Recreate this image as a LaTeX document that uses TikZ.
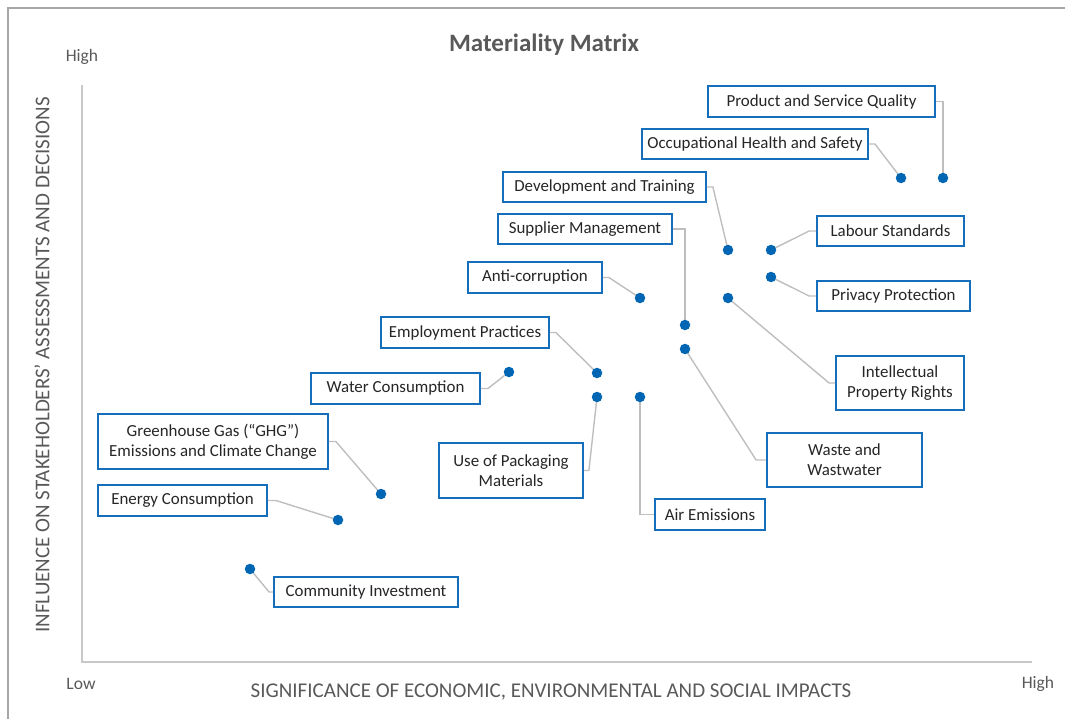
\documentclass[tikz,border=0pt]{standalone}
\usepackage{fontspec}
\setmainfont{Carlito}
\definecolor{boxblue}{RGB}{21,110,188}
\definecolor{dotblue}{RGB}{0,101,179}
\definecolor{leadgray}{RGB}{190,190,190}
\definecolor{axgray}{RGB}{200,200,200}
\definecolor{framegray}{RGB}{166,166,166}
\definecolor{txtdark}{RGB}{38,38,38}
\definecolor{txtgray}{RGB}{89,89,89}
\begin{document}
\begin{tikzpicture}[x=1pt,y=-1pt,
  lbl/.style={draw=boxblue, line width=1.8pt, fill=white, inner sep=0pt, align=center,
    text=txtdark, font=\fontsize{16.9}{19.8}\selectfont},
  lead/.style={draw=leadgray, line width=1.4pt},
  dot/.style={circle, fill=dotblue, inner sep=0pt, minimum size=10.5pt},
  axlab/.style={text=txtgray, font=\fontsize{21}{24}\selectfont},
  hl/.style={text=txtgray, font=\fontsize{17.5}{20}\selectfont}]
\useasboundingbox (0,0) rectangle (1065,719);
% frame
\draw[framegray, line width=2pt] (8,719) -- (8,8) -- (1065,8);
% axes
\coordinate (ytop) at (82,85);
\coordinate (org) at (82,662);
\coordinate (xend) at (1032,662);
\draw[axgray, line width=1.5pt] (ytop) -- (org) -- (xend);
% title and axis labels
\node[text=txtgray, font=\bfseries\fontsize{25}{30}\selectfont] (title) at (544,45) {Materiality Matrix};
\node[hl] (hi) at (82,57) {High};
\node[hl] (lo) at (81,684) {Low};
\node[hl] (hx) at (1038,684) {High};
\node[axlab] (xlab) at (551,692) {SIGNIFICANCE OF ECONOMIC, ENVIRONMENTAL AND SOCIAL IMPACTS};
\node[axlab, rotate=90] (ylab) at (42,365) {INFLUENCE ON STAKEHOLDERS’ ASSESSMENTS AND DECISIONS};
% dot positions
\coordinate (ppsq) at (943,178);
\coordinate (pohs) at (901,178);
\coordinate (pdt) at (728,250);
\coordinate (plab) at (771,250);
\coordinate (ppri) at (771,277);
\coordinate (pipr) at (728,298);
\coordinate (panti) at (640,298);
\coordinate (psup) at (685,325);
\coordinate (pwas) at (685,349);
\coordinate (pemp) at (597,373);
\coordinate (pwat) at (509,372);
\coordinate (ppack) at (597,397);
\coordinate (pair) at (640,397);
\coordinate (pghg) at (381,494);
\coordinate (pene) at (338,520);
\coordinate (pcom) at (250,569);
% label boxes
\node[lbl, minimum width=227, minimum height=31] (psq) at (821.5,101.5) {Product and Service Quality};
\node[lbl, minimum width=226, minimum height=30] (ohs) at (755,144) {Occupational Health and Safety};
\node[lbl, minimum width=203, minimum height=30] (dt) at (604.5,187) {Development and Training};
\node[lbl, minimum width=174, minimum height=30] (sup) at (585,229) {Supplier Management};
\node[lbl, minimum width=147, minimum height=30] (lab) at (890.5,231) {Labour Standards};
\node[lbl, minimum width=153, minimum height=30] (pri) at (893.5,296) {Privacy Protection};
\node[lbl, minimum width=134, minimum height=31] (anti) at (535,277.5) {Anti-corruption};
\node[lbl, minimum width=168, minimum height=31] (emp) at (465,332.5) {Employment Practices};
\node[lbl, minimum width=169, minimum height=31] (wat) at (395.5,388.5) {Water Consumption};
\node[lbl, minimum width=144, minimum height=55] (pack) at (511,470.5) {Use of Packaging\\Materials};
\node[lbl, minimum width=110, minimum height=31] (air) at (710,514.5) {Air Emissions};
\node[lbl, minimum width=128, minimum height=54] (ipr) at (900,383) {Intellectual\\Property Rights};
\node[lbl, minimum width=155, minimum height=54] (was) at (844.5,460) {Waste and\\Wastwater};
\node[lbl, minimum width=230, minimum height=55] (ghg) at (213,441.5) {Greenhouse Gas (“GHG”)\\Emissions and Climate Change};
\node[lbl, minimum width=169, minimum height=31] (ene) at (182.5,500.5) {Energy Consumption};
\node[lbl, minimum width=184, minimum height=30] (com) at (366,592) {Community Investment};
% leader lines
\draw[lead] (psq.east) -| (ppsq);
\draw[lead] (ohs.east) -- ++(6,0) -- (pohs);
\draw[lead] (dt.east) -- ++(6,0) -- (pdt);
\draw[lead] (sup.east) -| (psup);
\draw[lead] (lab.west) -- ++(-7,0) -- (plab);
\draw[lead] (pri.west) -- ++(-7,0) -- (ppri);
\draw[lead] (anti.east) -- ++(6,0) -- (panti);
\draw[lead] (emp.east) -- ++(6,0) -- (pemp);
\draw[lead] (wat.east) -- ++(7,0) -- (pwat);
\draw[lead] (pack.east) -- ++(5,0) -- (ppack);
\draw[lead] (air.west) -| (pair);
\draw[lead] (ipr.west) -- ++(-6,0) -- (pipr);
\draw[lead] (was.west) -- ++(-10,0) -- (pwas);
\draw[lead] (ghg.east) -- ++(7,0) -- (pghg);
\draw[lead] (ene.east) -- ++(8,0) -- (pene);
\draw[lead] (com.west) -- ++(-4,0) -- (pcom);
% dots
\foreach \p in {ppsq,pohs,pdt,plab,ppri,pipr,panti,psup,pwas,pemp,pwat,ppack,pair,pghg,pene,pcom}
  \node[dot] (d\p) at (\p) {};
\end{tikzpicture}
\end{document}
